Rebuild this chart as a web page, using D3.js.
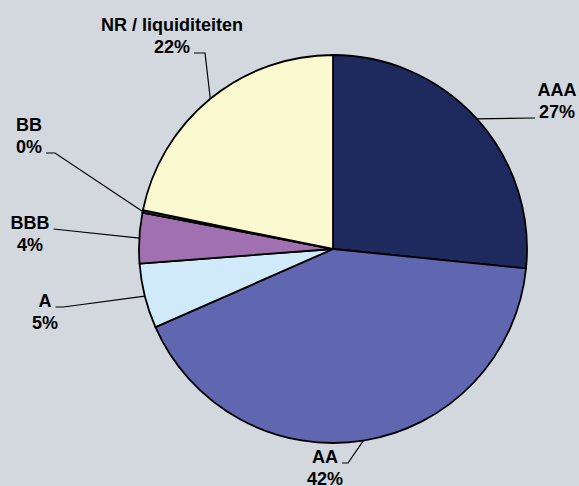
<!DOCTYPE html>
<html>
<head>
<meta charset="utf-8">
<script src="https://cdn.jsdelivr.net/npm/d3@7"></script>
<style>
  html, body { margin: 0; padding: 0; background: #d2d8de; }
  svg { display: block; }
  text { font-family: "Liberation Sans", Arial, sans-serif; font-weight: bold; font-size: 18px; fill: #000; }
</style>
</head>
<body>
<svg id="chart" width="579" height="486"></svg>
<script>
// ---- data ----
const categories = ["AAA", "AA", "A", "BBB", "BB", "NR / liquiditeiten"];
const values     = [26.6, 41.8, 5.4, 4.2, 0.2, 21.8];
const colors     = ["#1e2a5e", "#6066b0", "#d0eafa", "#a070b0", "#a070b0", "#fbf9d0"];

// label layout: centre x, first-line baseline, which line the leader attaches to, side, stub length
const labelLayout = [
  { x: 557, y: 96,  line: 1, side: "left",  stub: 0 },
  { x: 325, y: 463, line: 0, side: "right", stub: 6 },
  { x: 45,  y: 307, line: 0, side: "right", stub: 8 },
  { x: 30,  y: 229, line: 0, side: "right", stub: 0 },
  { x: 29,  y: 131, line: 1, side: "right", stub: 9 },
  { x: 172, y: 31,  line: 1, side: "right", stub: 11 }
];

const W = 579, H = 486;
const cx = 333, cy = 249, R = 194;
const lineH = 22;

const svg = d3.select("#chart");
svg.append("rect").attr("width", W).attr("height", H).attr("fill", "#d2d8de");

const data = categories.map((c, i) => ({ name: c, value: values[i], color: colors[i], layout: labelLayout[i] }));

const pie = d3.pie().value(d => d.value).sort(null);
const arcs = pie(data);
const arc = d3.arc().innerRadius(0).outerRadius(R);
const edge = d3.arc().innerRadius(R).outerRadius(R);

const g = svg.append("g").attr("transform", `translate(${cx},${cy})`);
g.selectAll("path.slice").data(arcs).join("path")
  .attr("class", "slice")
  .attr("d", arc)
  .attr("fill", d => d.data.color)
  .attr("stroke", "#000")
  .attr("stroke-width", 1.8)
  .attr("stroke-linejoin", "round");

// labels
const lg = svg.append("g");
arcs.forEach(a => {
  const L = a.data.layout;
  const lines = [a.data.name, Math.round(a.data.value) + "%"];
  const t = lg.append("text").attr("text-anchor", "middle");
  const spans = lines.map((s, i) => t.append("tspan").attr("x", L.x).attr("y", L.y + i * lineH).text(s));
  const w = spans[L.line].node().getComputedTextLength();
  const by = L.y + L.line * lineH;
  const gap = 4;
  const sx = L.side === "right" ? L.x + w / 2 + gap : L.x - w / 2 - gap;
  const ex = L.side === "right" ? sx + L.stub : sx - L.stub;
  const [px, py] = edge.centroid(a);
  const pts = [[sx, by], [ex, by], [cx + px, cy + py]];
  lg.append("path")
    .attr("d", d3.line()(pts))
    .attr("fill", "none")
    .attr("stroke", "#000")
    .attr("stroke-width", 1.2);
});
</script>
</body>
</html>
